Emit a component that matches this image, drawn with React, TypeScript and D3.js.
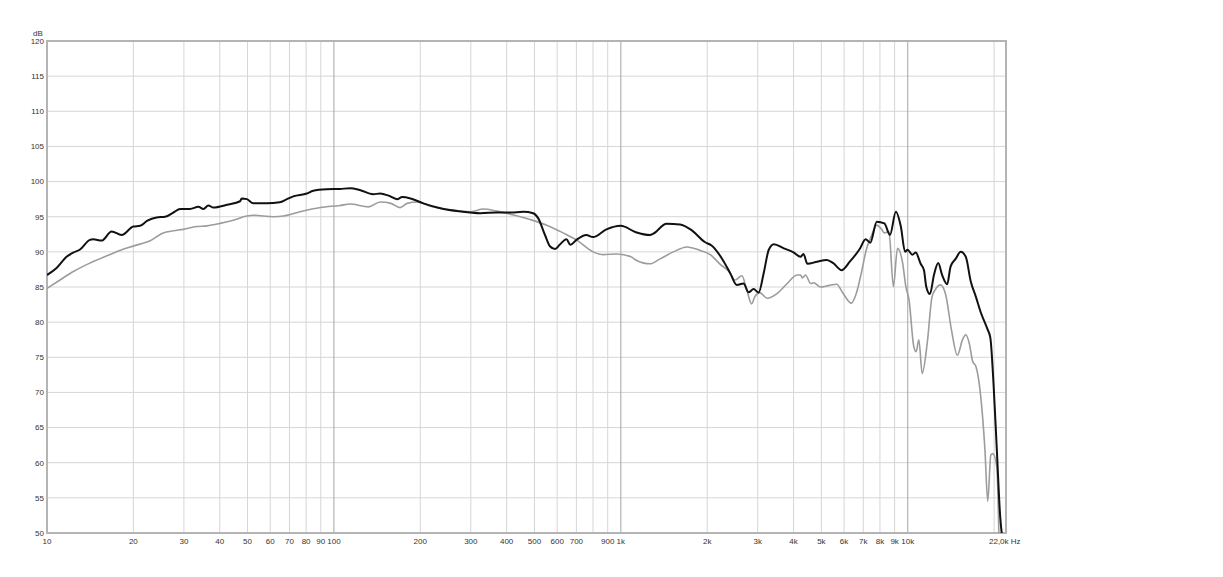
import React from "react";
import * as d3 from "d3";

const blackFreq = [10,10.8,11.7,12.35,13,14.1,14.5,15.5,16.8,18.2,20,21.1,22.3,24.1,25.8,27.6,29.1,31.5,33.7,35.1,36.5,38,42.4,47.1,47.7,49.7,52.4,58.4,64.7,68.6,72.2,80.5,84.7,94.5,105,114,123,137,145,155,166,173,185,205,235,268,298,324,370,412,457,495,515,544,566,590,612,646,667,700,758,800,891,1000,1128,1263,1298,1444,1608,1764,1962,2071,2247,2403,2536,2676,2787,2902,3022,3148,3278,3414,3700,4010,4230,4330,4470,4830,5220,5500,5880,6280,6800,7130,7400,7800,8290,8670,9090,9460,9790,9980,10380,10660,11090,11390,11600,11950,12340,12770,13180,13720,14100,14680,15300,15930,16590,17280,18000,18960,19400,19900,20440,21000,21400];
const blackDb = [86.7,87.7,89.3,89.9,90.3,91.7,91.8,91.6,92.9,92.4,93.6,93.7,94.4,94.9,95.0,95.6,96.1,96.1,96.4,96.1,96.6,96.3,96.7,97.2,97.6,97.5,96.9,96.9,97.05,97.5,97.9,98.3,98.7,98.9,98.95,99.05,98.8,98.2,98.3,98.0,97.5,97.8,97.6,96.9,96.2,95.8,95.6,95.5,95.6,95.6,95.7,95.5,94.8,92.4,90.8,90.4,91.0,91.8,91.0,91.7,92.4,92.1,93.2,93.7,92.8,92.4,92.6,94.0,93.9,93.1,91.4,90.9,89.1,87.0,85.3,85.5,84.25,84.7,84.2,87.0,90.3,91.1,90.5,89.9,89.3,89.7,88.3,88.6,88.85,88.4,87.4,88.6,90.4,91.8,91.3,94.3,94.05,92.4,95.7,93.6,90.0,90.3,89.6,89.9,88.3,87.4,85.05,84.0,86.7,88.4,86.7,85.4,87.9,89.0,90.0,89.3,85.75,83.6,81.3,79.0,77.8,71.3,61.8,52.3,49.0];

const grayFreq = [10,11.1,12.35,14.1,16.1,18.5,21.1,22.8,25.4,27.6,29.9,33.2,36.1,40.1,44.6,49.7,52.4,61.5,66.7,76.2,89.8,105,114,132,145,158,170,180,195,217,254,298,332,370,423,483,552,629,700,800,868,968,1085,1128,1263,1370,1524,1700,1890,2050,2210,2403,2500,2642,2747,2855,2930,3047,3240,3510,3800,4120,4230,4290,4400,4590,4700,4970,5290,5650,5950,6360,6620,6890,7170,7460,7800,8080,8290,8600,8910,9210,9580,9850,10100,10500,10700,10930,11230,11690,12150,12460,13000,13560,14200,14890,15520,15930,16380,16840,17280,17740,18580,19000,19480,19800,20440,20800];
const grayDb = [84.8,86.0,87.2,88.4,89.4,90.4,91.1,91.55,92.7,93.0,93.2,93.6,93.7,94.05,94.5,95.1,95.2,95.0,95.1,95.7,96.3,96.6,96.8,96.4,97.1,96.9,96.3,96.9,97.1,96.5,96.0,95.7,96.1,95.8,95.25,94.6,93.8,92.7,91.7,90.0,89.6,89.7,89.3,88.85,88.3,89.0,90.0,90.7,90.2,89.6,88.3,87.0,86.0,86.6,84.6,82.6,83.6,84.2,83.4,84.1,85.5,86.7,86.7,86.3,86.7,85.5,85.6,85.0,85.2,85.4,84.1,82.7,84.1,87.0,90.3,92.2,93.8,93.3,92.7,92.9,85.05,90.5,88.6,85.05,83.2,76.5,75.8,77.5,72.7,77.0,83.6,84.6,85.3,83.9,78.9,75.3,77.5,78.2,77.0,74.4,73.7,71.3,61.8,54.5,61.1,61.3,59.4,49.0];

const yTicks = [50,55,60,65,70,75,80,85,90,95,100,105,110,115,120];
const xTickValues = [10,20,30,40,50,60,70,80,90,100,200,300,400,500,600,700,900,1000,2000,3000,4000,5000,6000,7000,8000,9000,10000];
const xTickLabels = ["10","20","30","40","50","60","70","80","90","100","200","300","400","500","600","700","900","1k","2k","3k","4k","5k","6k","7k","8k","9k","10k"];

export default function App() {
  const L = 47, R = 1006, T = 41, B = 533;
  const x = d3.scaleLog().domain([10, 22000]).range([L, R]);
  const y = d3.scaleLinear().domain([50, 120]).range([B, T]);

  const gridFreqs: number[] = [];
  for (let dec = 10; dec <= 10000; dec *= 10) {
    for (let m = 1; m <= 9; m++) {
      const f = dec * m;
      if (f > 10 && f < 22000) gridFreqs.push(f);
    }
  }
  const major = new Set([100, 1000, 10000]);

  const line = d3.line<[number, number]>()
    .x(d => x(d[0]))
    .y(d => y(d[1]))
    .curve(d3.curveMonotoneX);

  const blackPts = blackFreq.map((f, i) => [f, blackDb[i]] as [number, number]);
  const grayPts = grayFreq.map((f, i) => [f, grayDb[i]] as [number, number]);

  const font = "'Liberation Sans', Arial, sans-serif";
  const fs = 8;

  return (
    <svg width={1223} height={577} style={{ position: "absolute", left: 0, top: 0, background: "#fff" }}>
      <defs>
        <clipPath id="plot">
          <rect x={L} y={T} width={R - L} height={B - T} />
        </clipPath>
      </defs>
      {yTicks.map(t => (
        <line key={"h" + t} x1={L} x2={R} y1={y(t)} y2={y(t)} stroke="#d6d6d6" strokeWidth={1} />
      ))}
      {gridFreqs.filter(f => !major.has(f)).map(f => (
        <line key={"v" + f} x1={x(f)} x2={x(f)} y1={T} y2={B} stroke="#d6d6d6" strokeWidth={1} />
      ))}
      {gridFreqs.filter(f => major.has(f)).map(f => (
        <line key={"vm" + f} x1={x(f)} x2={x(f)} y1={T} y2={B} stroke="#a4a4a4" strokeWidth={1} />
      ))}
      <rect x={L} y={T} width={R - L} height={B - T} fill="none" stroke="#b4b4b4" strokeWidth={2} />
      <g clipPath="url(#plot)">
        <path d={line(grayPts) || ""} fill="none" stroke="#9c9c9c" strokeWidth={1.6} strokeLinejoin="round" />
        <path d={line(blackPts) || ""} fill="none" stroke="#111" strokeWidth={2} strokeLinejoin="round" />
      </g>
      {yTicks.map(t => (
        <text key={"yl" + t} x={44} y={y(t)} dy="0.35em" textAnchor="end" fontFamily={font} fontSize={fs} fill="#333">{t}</text>
      ))}
      <text x={38} y={36} textAnchor="middle" fontFamily={font} fontSize={fs} fill="#333">dB</text>
      {xTickValues.map((f, i) => (
        <text key={"xl" + f} x={x(f)} y={544} textAnchor="middle" fontFamily={font} fontSize={fs} fill="#333">{xTickLabels[i]}</text>
      ))}
      <text x={989} y={544} textAnchor="start" fontFamily={font} fontSize={fs} fill="#333">22,0k Hz</text>
    </svg>
  );
}
